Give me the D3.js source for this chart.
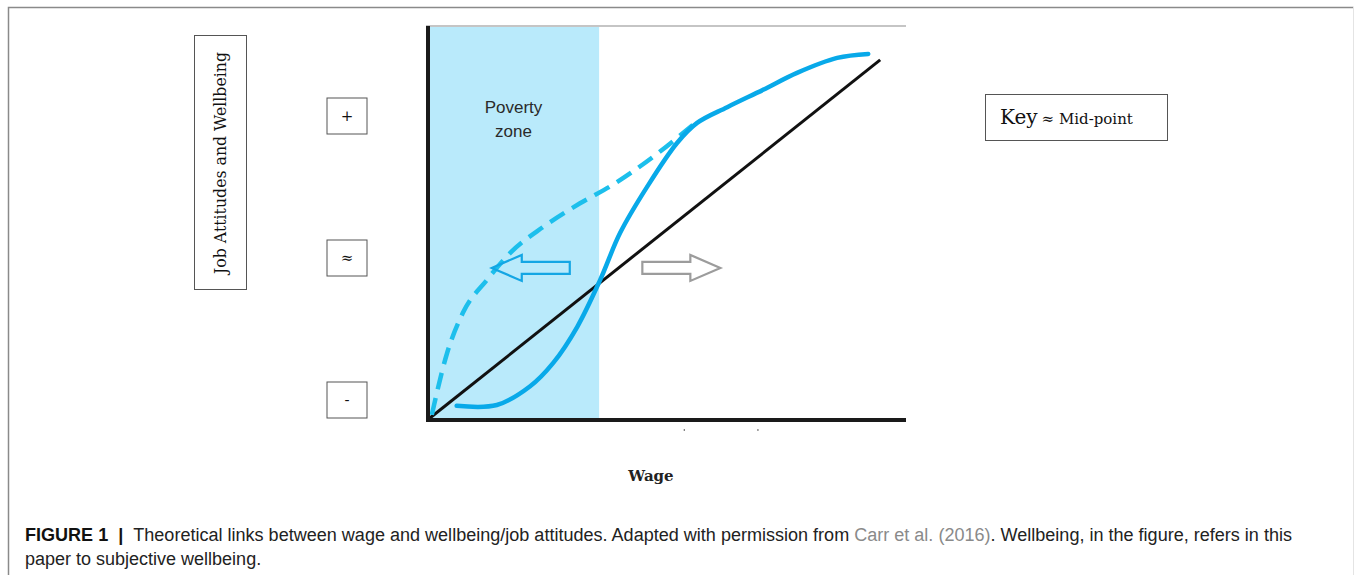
<!DOCTYPE html>
<html>
<head>
<meta charset="utf-8">
<script src="https://cdn.jsdelivr.net/npm/d3@7"></script>
<style>
  body { margin: 0; background: #fff; }
  svg { display: block; }
</style>
</head>
<body>
<div id="chart"></div>
<script>
// wage axis 0..100, wellbeing axis 0..100 (unitless)
var baselineWage = [0.4, 94.6];
var baselineWell = [0.5, 91.4];

var solidWage = [6.0, 14.4, 21.3, 26.2, 31.2, 36.0, 40.2, 45.8, 52.1, 56.3, 62.6, 70.1, 77.2, 85.6, 92.1];
var solidWell = [3.6, 3.8, 8.5, 14.5, 23.6, 35.5, 47.5, 59.1, 70.3, 75.4, 79.4, 83.8, 88.1, 91.9, 92.9];

var dashWage = [0.8, 4.0, 7.3, 12.3, 17.2, 24.1, 31.8, 38.5, 47.1, 55.4];
var dashWell = [1.3, 17.0, 27.2, 35.5, 42.4, 49.0, 55.0, 59.6, 66.8, 74.9];

var povertyZone = [0.4, 35.8];
var levels = ["+", "≈", "-"];
var ticksX = [53.6, 69.0];
var arrowWage = [21.5, 53.0];
var arrowWell = 38.6;

var svg = d3.select("#chart")
  .append("svg")
  .attr("width", 1354)
  .attr("height", 575);

var x = d3.scaleLinear().domain([0, 100]).range([428, 906]);
var y = d3.scaleLinear().domain([0, 100]).range([420, 26]);
var lvl = d3.scalePoint().domain(levels).range([116, 400]);

// outer frame
svg.append("path")
  .attr("d", "M8.5,575 L8.5,7.5 L1353.5,7.5")
  .attr("fill", "none")
  .attr("stroke", "#8a8a8a")
  .attr("stroke-width", 1.5);
svg.append("line")
  .attr("x1", 1353.5).attr("x2", 1353.5).attr("y1", 7).attr("y2", 575)
  .attr("stroke", "#e4e4e4");

// poverty zone
svg.append("rect")
  .attr("x", x(povertyZone[0]))
  .attr("y", y(100) + 1)
  .attr("width", x(povertyZone[1]) - x(povertyZone[0]))
  .attr("height", y(0) - y(100) - 1)
  .attr("fill", "#b9eafb");

["Poverty", "zone"].forEach(function(t, i) {
  svg.append("text")
    .attr("x", x((povertyZone[0] + povertyZone[1]) / 2) - 1)
    .attr("y", 113 + i * 24)
    .attr("text-anchor", "middle")
    .attr("font-family", "Liberation Sans, Arial, sans-serif")
    .attr("font-size", 17)
    .attr("fill", "#2a2a2a")
    .text(t);
});

// top thin line
svg.append("line")
  .attr("x1", x(0) - 2).attr("x2", x(100))
  .attr("y1", y(100)).attr("y2", y(100))
  .attr("stroke", "#8c8c8c")
  .attr("stroke-width", 1.2);

var line = d3.line()
  .x(function(d) { return x(d[0]); })
  .y(function(d) { return y(d[1]); });
var dashCurve = d3.line()
  .x(function(d) { return x(d[0]); })
  .y(function(d) { return y(d[1]); })
  .curve(d3.curveMonotoneX);
var solidCurve = d3.line()
  .x(function(d) { return x(d[0]); })
  .y(function(d) { return y(d[1]); })
  .curve(d3.curveCatmullRom.alpha(0.5));

// black diagonal
svg.append("path")
  .datum(d3.zip(baselineWage, baselineWell))
  .attr("d", line)
  .attr("fill", "none")
  .attr("stroke", "#111")
  .attr("stroke-width", 3);

// dashed curve
svg.append("path")
  .datum(d3.zip(dashWage, dashWell))
  .attr("d", dashCurve)
  .attr("fill", "none")
  .attr("stroke", "#1cbfec")
  .attr("stroke-width", 4.5)
  .attr("stroke-dasharray", "17,9");

// solid curve
svg.append("path")
  .datum(d3.zip(solidWage, solidWell))
  .attr("d", solidCurve)
  .attr("fill", "none")
  .attr("stroke", "#08a9e9")
  .attr("stroke-width", 4.5)
  .attr("stroke-linecap", "round");

// arrows
function arrow(cx, cy, dir, col) {
  // dir = -1 points left, 1 points right
  var bodyLen = 48, headLen = 30, bh = 6, hh = 13;
  var tail = cx - dir * 39;
  var neck = tail + dir * bodyLen;
  var tip = neck + dir * headLen;
  var pts = [
    [tail, cy - bh], [neck, cy - bh], [neck, cy - hh], [tip, cy],
    [neck, cy + hh], [neck, cy + bh], [tail, cy + bh]
  ];
  svg.append("path")
    .attr("d", d3.line()(pts) + "Z")
    .attr("fill", "none")
    .attr("stroke", col)
    .attr("stroke-width", 2.2);
}
arrow(x(arrowWage[0]), y(arrowWell), -1, "#14a6e4");
arrow(x(arrowWage[1]), y(arrowWell), 1, "#9c9c9c");

// axes
svg.append("line")
  .attr("x1", x(0)).attr("x2", x(0))
  .attr("y1", y(100)).attr("y2", y(0) + 2)
  .attr("stroke", "#1a1a1a")
  .attr("stroke-width", 4);
svg.append("line")
  .attr("x1", x(0) - 2).attr("x2", x(100))
  .attr("y1", y(0)).attr("y2", y(0))
  .attr("stroke", "#1a1a1a")
  .attr("stroke-width", 4);

svg.selectAll(".tickdot")
  .data(ticksX)
  .enter().append("rect")
  .attr("class", "tickdot")
  .attr("x", function(d) { return x(d) - 0.5; })
  .attr("y", 429)
  .attr("width", 1.2)
  .attr("height", 2)
  .attr("fill", "#777");

// y label box
svg.append("rect")
  .attr("x", 194.5).attr("y", 35.5)
  .attr("width", 52).attr("height", 254)
  .attr("fill", "none")
  .attr("stroke", "#555")
  .attr("stroke-width", 1);
svg.append("text")
  .attr("transform", "translate(226,163) rotate(-90)")
  .attr("text-anchor", "middle")
  .attr("font-family", "DejaVu Serif, Liberation Serif, serif")
  .attr("font-size", 17)
  .attr("textLength", 222)
  .attr("lengthAdjust", "spacingAndGlyphs")
  .attr("fill", "#111")
  .text("Job Attitudes and Wellbeing");

// level boxes
var lb = svg.selectAll(".lvl")
  .data(levels)
  .enter().append("g")
  .attr("class", "lvl")
  .attr("transform", function(d) { return "translate(347," + lvl(d) + ")"; });
lb.append("rect")
  .attr("x", -20).attr("y", -18)
  .attr("width", 40).attr("height", 36)
  .attr("fill", "none")
  .attr("stroke", "#555")
  .attr("stroke-width", 1);
lb.append("text")
  .attr("text-anchor", "middle")
  .attr("dy", "0.35em")
  .attr("font-family", "DejaVu Serif, serif")
  .attr("font-size", 15)
  .attr("fill", "#111")
  .text(function(d) { return d; });

// key box
svg.append("rect")
  .attr("x", 985.5).attr("y", 94.5)
  .attr("width", 182).attr("height", 46)
  .attr("fill", "none")
  .attr("stroke", "#555")
  .attr("stroke-width", 1);
var key = svg.append("text")
  .attr("x", 1000).attr("y", 124)
  .attr("font-family", "DejaVu Serif, serif")
  .attr("fill", "#111");
key.append("tspan").attr("font-size", 20).text("Key");
key.append("tspan").attr("font-size", 15).attr("dx", 4).text("≈ Mid-point");

// x label
svg.append("text")
  .attr("x", 651).attr("y", 481)
  .attr("text-anchor", "middle")
  .attr("font-family", "DejaVu Serif, serif")
  .attr("font-weight", "bold")
  .attr("font-size", 15)
  .attr("fill", "#222")
  .text("Wage");

// caption
var cap = svg.append("text")
  .attr("x", 25).attr("y", 541)
  .attr("font-family", "Liberation Sans, Arial, sans-serif")
  .attr("font-size", 18)
  .attr("textLength", 1267)
  .attr("lengthAdjust", "spacingAndGlyphs")
  .attr("fill", "#222");
cap.append("tspan").attr("font-weight", "bold").attr("fill", "#111").text("FIGURE 1\u00a0\u00a0|\u00a0\u00a0");
cap.append("tspan").text("Theoretical links between wage and wellbeing/job attitudes. Adapted with permission from ");
cap.append("tspan").attr("fill", "#8a8a8a").text("Carr et al. (2016)");
cap.append("tspan").text(". Wellbeing, in the figure, refers in this");
svg.append("text")
  .attr("x", 25).attr("y", 565)
  .attr("font-family", "Liberation Sans, Arial, sans-serif")
  .attr("font-size", 18)
  .attr("fill", "#222")
  .text("paper to subjective wellbeing.");
</script>
</body>
</html>
